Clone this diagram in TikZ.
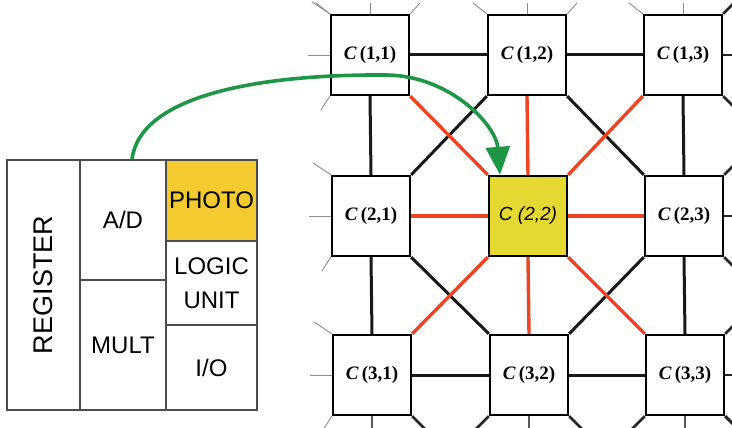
\documentclass[tikz,border=0pt]{standalone}
\usepackage{fontspec}
\setmainfont{Liberation Serif}
\setsansfont{Liberation Sans}
\usetikzlibrary{arrows.meta}
\definecolor{photoyellow}{HTML}{F3CA2F}
\definecolor{cellyellow}{HTML}{E6D832}
\definecolor{linkred}{HTML}{EE4422}
\definecolor{arrowgreen}{HTML}{1E9646}
\tikzset{
  unit/.style={draw=black!70, line width=1.4pt, inner sep=0pt, align=center,
    font=\sffamily\fontsize{24}{34}\selectfont},
  cell/.style={draw=black, line width=2.4pt, fill=white, inner sep=0pt,
    minimum width=78pt, minimum height=80pt, font=\bfseries\fontsize{19}{22}\selectfont},
  link/.style={line width=3pt, black!90},
  redlink/.style={line width=3.4pt, linkred},
  stub/.style={line width=0.9pt, black!45},
  edgelink/.style={line width=2.8pt, black!85}
}
\begin{document}
\begin{tikzpicture}[x=1pt,y=-1pt]
\clip (0,0) rectangle (732,428);
\fill[white] (0,0) rectangle (732,428);

% processing element
\node[unit, minimum width=73pt, minimum height=250pt] (reg) at (43.5,285) {\rotatebox{90}{\fontsize{27}{30}\selectfont REGISTER}};
\node[unit, minimum width=86pt, minimum height=120pt] (ad) at (123,220) {A/D};
\node[unit, minimum width=86pt, minimum height=130pt] (mult) at (123,345) {MULT};
\node[unit, fill=photoyellow, minimum width=91pt, minimum height=81pt] (photo) at (211.5,200.5) {PHOTO};
\node[unit, minimum width=91pt, minimum height=84pt] (logic) at (211.5,283) {LOGIC\\UNIT};
\node[unit, minimum width=91pt, minimum height=85pt] (io) at (211.5,367.5) {I/O};

% cell array
\node[cell] (c11) at (370,55) {\textit{C}\,(1,1)};
\node[cell] (c12) at (527,55) {\textit{C}\,(1,2)};
\node[cell] (c13) at (683,55) {\textit{C}\,(1,3)};
\node[cell] (c21) at (371,216) {\textit{C}\,(2,1)};
\node[cell, fill=cellyellow, font=\sffamily\itshape\fontsize{19}{22}\selectfont] (c22) at (528,216) {C (2,2)};
\node[cell] (c23) at (684,216) {\textit{C}\,(2,3)};
\node[cell] (c31) at (372,375) {\textit{C}\,(3,1)};
\node[cell] (c32) at (529,375) {\textit{C}\,(3,2)};
\node[cell] (c33) at (685,375) {\textit{C}\,(3,3)};

% links between neighbours
\draw[link] (c11.east)--(c12.west);
\draw[link] (c12.east)--(c13.west);
\draw[link] (c31.east)--(c32.west);
\draw[link] (c32.east)--(c33.west);
\draw[link] (c11.south)--(c21.north);
\draw[link] (c21.south)--(c31.north);
\draw[link] (c13.south)--(c23.north);
\draw[link] (c23.south)--(c33.north);
\draw[link] (c12.south west)--(c21.north east);
\draw[link] (c12.south east)--(c23.north west);
\draw[link] (c21.south east)--(c32.north west);
\draw[link] (c23.south west)--(c32.north east);

% links of the centre cell
\draw[redlink] (c22.north)--(c12.south);
\draw[redlink] (c22.south)--(c32.north);
\draw[redlink] (c22.west)--(c21.east);
\draw[redlink] (c22.east)--(c23.west);
\draw[redlink] (c22.north west)--(c11.south east);
\draw[redlink] (c22.north east)--(c13.south west);
\draw[redlink] (c22.south west)--(c31.north east);
\draw[redlink] (c22.south east)--(c33.north west);

% links leaving the array
\foreach \c in {c11,c12,c13} {
  \draw[stub] (\c.north west)--++(-14,-11);
  \draw[stub] (\c.north)--++(0,-11);
  \draw[stub] (\c.north east)--++(10,-11);
}
\foreach \c in {c11,c21,c31} {
  \draw[stub] (\c.west)--++(-22,0);
  \draw[stub] (\c.north west)--++(-18,-12);
  \draw[stub] (\c.south west)--++(-9,14);
}
\foreach \c in {c13,c23,c33} {
  \draw[edgelink] (\c.east)--++(20,0);
  \draw[edgelink] (\c.north east)--++(15,-15);
  \draw[edgelink] (\c.south east)--++(15,15);
}
\foreach \c in {c31,c32,c33} {
  \draw[stub, line width=1.2pt, black!65] (\c.south)--++(0,15);
  \draw[edgelink] (\c.south east)--++(15,15);
}
\foreach \c in {c32,c33} {
  \draw[edgelink] (\c.south west)--++(-15,15);
}

% data path from the photo detector
\coordinate (start) at ([xshift=9pt]ad.north);
\draw[arrowgreen, line width=3.6pt, -{Triangle[length=28pt,width=24pt]}]
  (start) .. controls (140,95) and (260,74) .. (387,75)
  .. controls (450,76) and (496,125) .. ([xshift=-28pt]c22.north);
\end{tikzpicture}
\end{document}
